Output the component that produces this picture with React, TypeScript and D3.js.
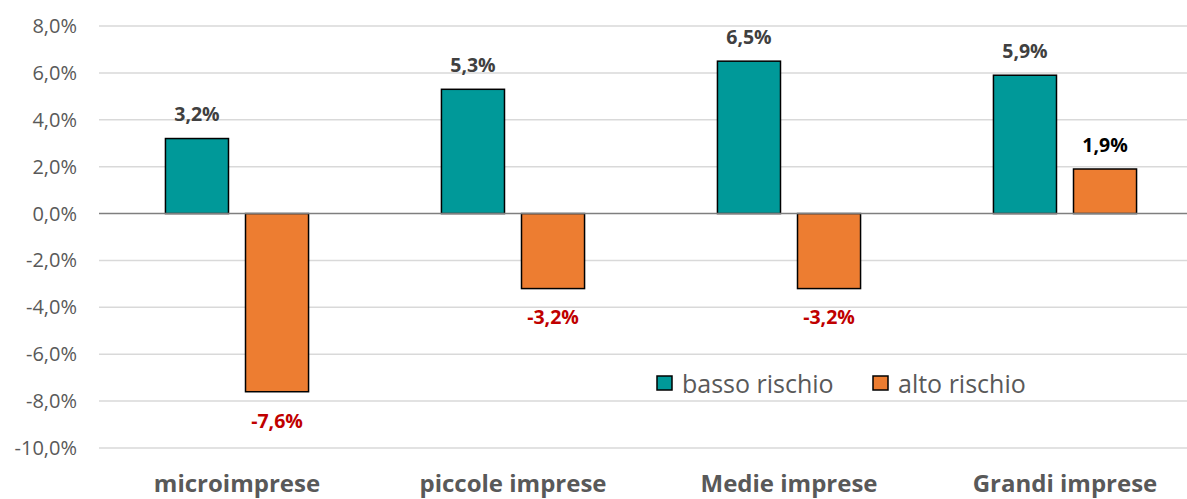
import React from "react";
import * as d3 from "d3";

const categories = ["microimprese", "piccole imprese", "Medie imprese", "Grandi imprese"];
const seriesNames = ["basso rischio", "alto rischio"];
const bassoRischio = [3.2, 5.3, 6.5, 5.9];
const altoRischio = [-7.6, -3.2, -3.2, 1.9];
const yTicks = [8, 6, 4, 2, 0, -2, -4, -6, -8, -10];

const W = 1187;
const H = 499;
const colors = ["#009999", "#ED7D31"];
const FONT = "'Open Sans', 'Liberation Sans', sans-serif";

const fmt = (v: number) => v.toFixed(1).replace(".", ",") + "%";

export default function App() {
  const x = d3.scaleBand<string>().domain(categories).range([99, 1203]).paddingInner(0).paddingOuter(0);
  const y = d3.scaleLinear().domain([-10, 8]).range([448, 26]);
  const inner = d3.scaleBand<string>().domain(seriesNames).range([0, x.bandwidth()]).paddingInner(0.2125).paddingOuter(0.83);
  const series = [bassoRischio, altoRischio];

  return (
    <svg width={W} height={H} style={{ position: "absolute", left: 0, top: 0, background: "#fff" }}>
      {yTicks.map((t) => (
        <g key={t}>
          {t !== 0 && <line x1={99} x2={W} y1={y(t)} y2={y(t)} stroke="#D9D9D9" strokeWidth={1.5} />}
          <text x={77} y={y(t)} dy="0.35em" textAnchor="end" fontFamily={FONT} fontSize={20} fill="#595959">
            {fmt(t)}
          </text>
        </g>
      ))}
      {categories.map((c, i) =>
        series.map((s, j) => {
          const v = s[i];
          const bx = (x(c) as number) + (inner(seriesNames[j]) as number);
          const top = y(Math.max(0, v));
          const h = Math.abs(y(v) - y(0));
          const labelY = v >= 0 ? y(v) - 24 : y(v) + 29;
          const labelColor = v < 0 ? "#C00000" : j === 1 ? "#000000" : "#404040";
          return (
            <g key={c + j}>
              <rect x={bx} y={top} width={inner.bandwidth()} height={h} fill={colors[j]} stroke="#000" strokeWidth={1.5} />
              <text x={bx + inner.bandwidth() / 2} y={labelY} dy="0.35em" textAnchor="middle" fontFamily={FONT} fontSize={19.5} fontWeight="bold" fill={labelColor}>
                {fmt(v)}
              </text>
            </g>
          );
        })
      )}
      <line x1={99} x2={W} y1={y(0)} y2={y(0)} stroke="#7F7F7F" strokeWidth={1.5} />
      {categories.map((c) => (
        <text key={c} x={(x(c) as number) + x.bandwidth() / 2} y={492} textAnchor="middle" fontFamily={FONT} fontSize={24} fontWeight="bold" fill="#595959">
          {c}
        </text>
      ))}
      {seriesNames.map((n, j) => {
        const lx = [657, 873][j];
        return (
          <g key={n}>
            <rect x={lx} y={376} width={15} height={14} fill={colors[j]} stroke="#000" strokeWidth={1.5} />
            <text x={lx + 25} y={384} dy="0.35em" fontFamily={FONT} fontSize={25} fill="#595959">
              {n}
            </text>
          </g>
        );
      })}
    </svg>
  );
}
